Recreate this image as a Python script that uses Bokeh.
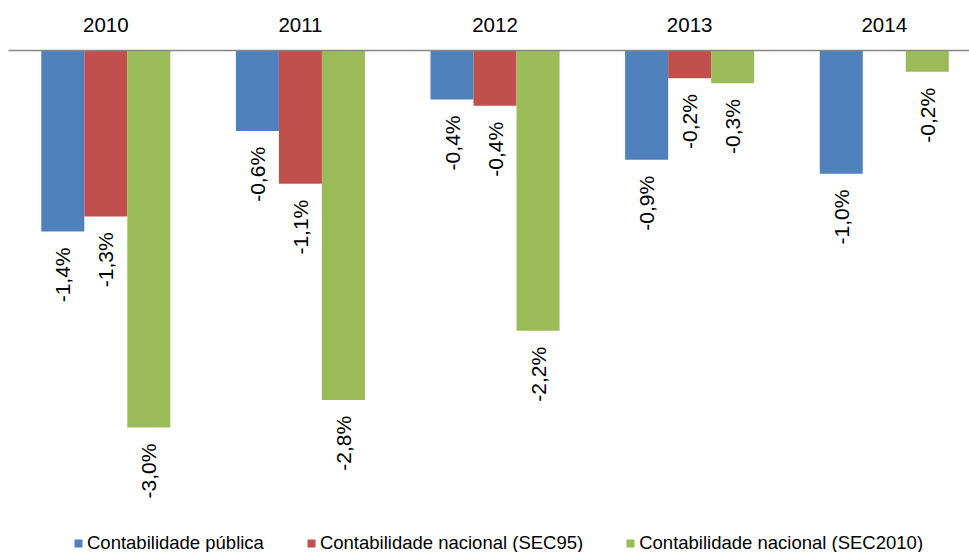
import numpy as np
from bokeh.plotting import figure
from bokeh.models import ColumnDataSource, Range1d, FixedTicker, Legend, LegendItem
from bokeh.core.properties import value
from bokeh.embed import file_html
from bokeh.resources import INLINE

# ---- data ----
years = ["2010", "2011", "2012", "2013", "2014"]
series_names = ["Contabilidade pública",
                "Contabilidade nacional (SEC95)",
                "Contabilidade nacional (SEC2010)"]
publica = [-1.44, -0.64, -0.39, -0.87, -0.98]
sec95 = [-1.32, -1.06, -0.44, -0.22, None]
sec2010 = [-3.00, -2.78, -2.23, -0.26, -0.17]
colors = ["#4F81BD", "#C0504D", "#9BBB59"]

FONT = "Liberation Sans"
BAR_W = 0.221
offsets = [-BAR_W, 0.0, BAR_W]

p = figure(width=969, height=552, output_backend="svg", toolbar_location=None,
           x_range=Range1d(-0.5, 4.438), y_range=Range1d(-3.994, 0),
           x_axis_location="above", y_axis_location=None,
           min_border_left=8, min_border_right=0, min_border_top=50,
           min_border_bottom=0)
p.grid.visible = False
p.outline_line_color = None
p.background_fill_color = "white"
p.border_fill_color = "white"

ax = p.xaxis[0]
ax.ticker = FixedTicker(ticks=list(range(len(years))))
ax.major_label_overrides = {i: y for i, y in enumerate(years)}
ax.major_tick_line_color = None
ax.minor_tick_line_color = None
ax.axis_line_color = "#868686"
ax.axis_line_width = 1.5
ax.major_label_standoff = 13
ax.major_label_text_font = FONT
ax.major_label_text_font_size = "20.5px"
ax.major_label_text_font_style = "normal"
ax.major_label_text_color = "black"

def fmt(v):
    return ("%.1f" % v).replace(".", ",") + "%"

items = []
for j, (name, vals) in enumerate(zip(series_names, [publica, sec95, sec2010])):
    xs = [i + offsets[j] for i, v in enumerate(vals) if v is not None]
    vs = [v for v in vals if v is not None]
    src = ColumnDataSource(dict(x=xs, v=vs, lab=[fmt(v) for v in vs]))
    r = p.vbar(x="x", top=0, bottom="v", width=BAR_W, source=src,
               fill_color=colors[j], line_color=None)
    p.text(x="x", y="v", text="lab", source=src, angle=np.pi / 2,
           text_align="right", text_baseline="middle", y_offset=16,
           text_font=value(FONT), text_font_size="21px", text_color="black")
    items.append(LegendItem(label=name, renderers=[r]))

legend = Legend(items=items, orientation="horizontal", location=(65, -2),
                glyph_width=10, glyph_height=10, label_standoff=4, spacing=42,
                padding=0, margin=0, border_line_color=None,
                background_fill_alpha=0, label_text_font=FONT,
                label_text_font_size="18.5px", label_text_color="black")
p.add_layout(legend)

open("out.html", "w").write(file_html(p, INLINE))
